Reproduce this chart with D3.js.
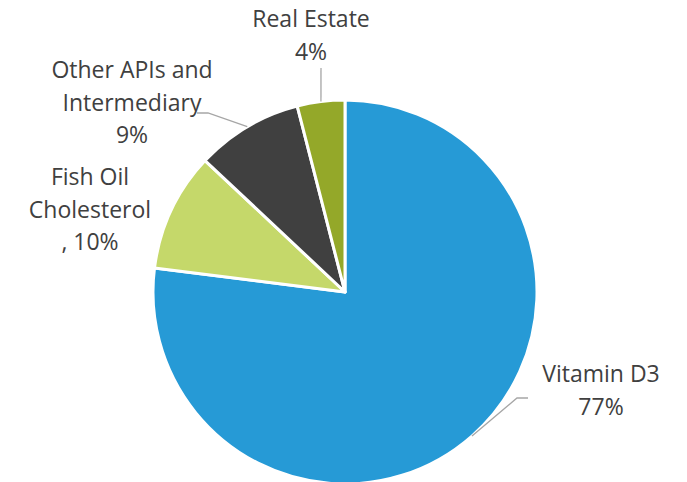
<!DOCTYPE html>
<html lang="en">
<head>
    <meta charset="UTF-8">
    <title>Pie</title>
    <script src="https://d3js.org/d3.v7.min.js"></script>
    <style>
        body { margin: 0; background: #fff; }
        svg { display: block; }
    </style>
</head>
<body>
    <svg width="687" height="482"></svg>
    <script>
        // data
        const categories = ["Vitamin D3", "Fish Oil Cholesterol", "Other APIs and Intermediary", "Real Estate"];
        const values = [77, 10, 9, 4];
        const colors = ["#269AD6", "#C5D86A", "#404040", "#94A829"];
        // label text broken in lines, last line gets the percent
        const labelLines = [["Vitamin D3"], ["Fish Oil", "Cholesterol"], ["Other APIs and", "Intermediary"], ["Real Estate"]];
        const pctPrefix = ["", ", ", "", ""];

        // label layout: text centre x, first baseline, leader bend/end points
        const labelLayout = [
            { x: 601, y: 382, leader: [[517, 398], [528, 398]] },
            { x: 90, y: 185, leader: null },
            { x: 132, y: 78, leader: [[208, 113], [197, 113]] },
            { x: 311, y: 27, leader: [[321, 68]] }
        ];

        const svg = d3.select("svg");
        const cx = 345, cy = 292, r = 192;
        const lineH = 32.5;

        const pie = d3.pie().sort(null).startAngle(0).endAngle(2 * Math.PI);
        const arcs = pie(values);
        const arc = d3.arc().innerRadius(0).outerRadius(r);
        const edge = d3.arc().innerRadius(r).outerRadius(r);

        const g = svg.append("g").attr("transform", `translate(${cx},${cy})`);

        g.selectAll("path.slice")
            .data(arcs)
            .join("path")
            .attr("class", "slice")
            .attr("d", arc)
            .attr("fill", (d, i) => colors[i])
            .attr("stroke", "#fff")
            .attr("stroke-width", 3)
            .attr("stroke-linejoin", "round");

        // leader lines
        arcs.forEach((d, i) => {
            const lay = labelLayout[i];
            if (!lay.leader) return;
            const p = edge.centroid(d);
            const pts = [[cx + p[0], cy + p[1]]].concat(lay.leader);
            svg.append("path")
                .attr("d", d3.line()(pts))
                .attr("fill", "none")
                .attr("stroke", "#A6A6A6")
                .attr("stroke-width", 1.3);
        });

        // labels
        const total = d3.sum(values);
        arcs.forEach((d, i) => {
            const lay = labelLayout[i];
            const lines = labelLines[i].concat([pctPrefix[i] + Math.round(values[i] / total * 100) + "%"]);
            const t = svg.append("text")
                .attr("text-anchor", "middle")
                .attr("font-family", "'Open Sans', sans-serif")
                .attr("font-size", 23)
                .attr("fill", "#404040");
            lines.forEach((s, k) => {
                t.append("tspan")
                    .attr("x", lay.x)
                    .attr("y", lay.y + k * lineH)
                    .text(s);
            });
        });
    </script>
</body>
</html>
